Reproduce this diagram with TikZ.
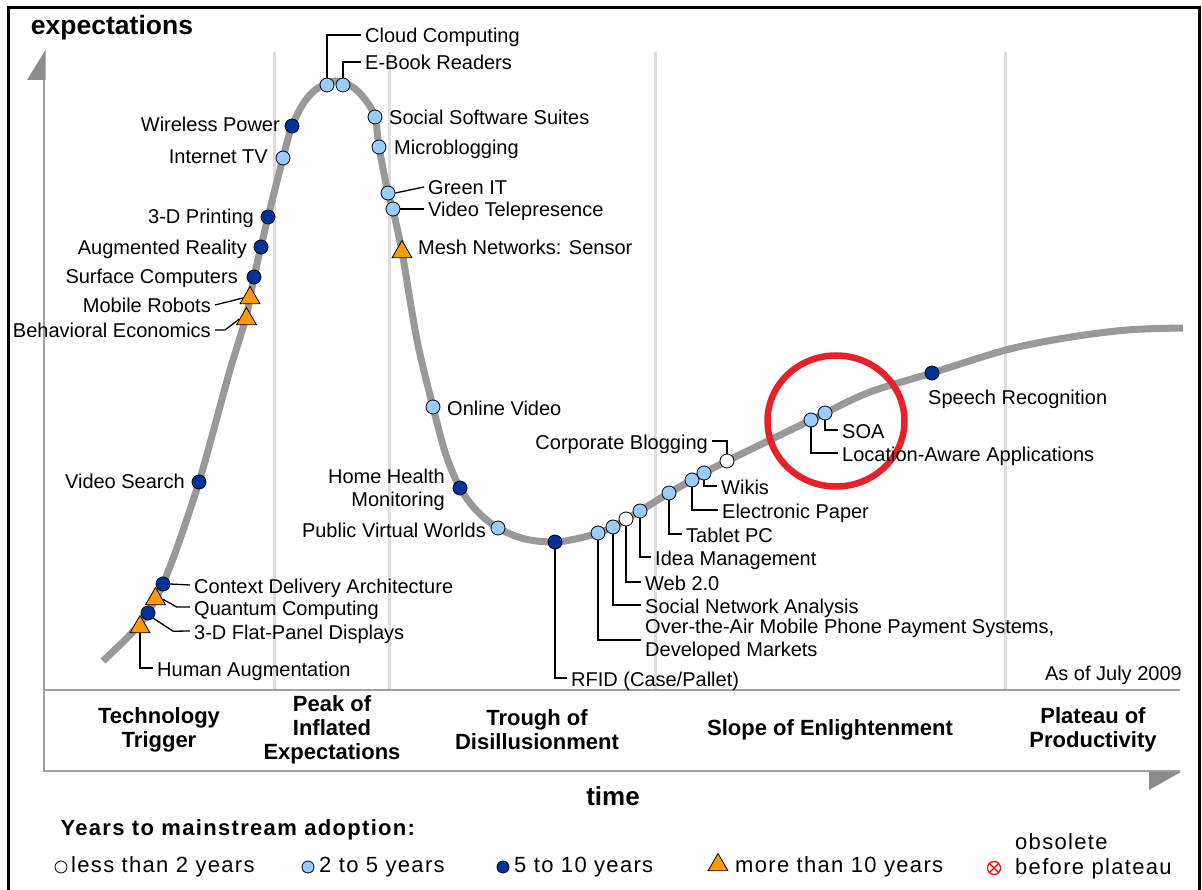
\documentclass[tikz,border=0pt]{standalone}
\usepackage{fontspec}
\setmainfont{Liberation Sans}
\usepackage{xcolor}
\usepackage{tikz}
\usetikzlibrary{shapes.geometric}

\definecolor{lightdot}{HTML}{99CCFF}
\definecolor{darkdot}{HTML}{003399}
\definecolor{tridot}{HTML}{FF9900}
\definecolor{curvegray}{HTML}{999999}
\definecolor{gridgray}{HTML}{DDDDDD}
\definecolor{axisgray}{HTML}{A0A0A0}
\definecolor{arrowgray}{HTML}{8C8C8C}
\definecolor{ringred}{HTML}{E8202A}

\begin{document}
\begin{tikzpicture}[x=1pt, y=-1pt,
        lbl/.style={font=\fontsize{20}{23}\selectfont, inner xsep=4pt, inner ysep=1pt, text height=17pt, text depth=1pt},
        lbltwo/.style={font=\fontsize{20}{23}\selectfont, inner xsep=4pt, inner ysep=1pt},
        dotbase/.style={circle, draw=black, line width=0.8pt, minimum size=14, inner sep=0pt},
        dotwhite/.style={dotbase, fill=white},
        dotlight/.style={dotbase, fill=lightdot},
        dotdark/.style={dotbase, fill=darkdot},
        dottri/.style={regular polygon, regular polygon sides=3, draw=black, line width=0.8pt, fill=tridot, minimum size=23, inner sep=0pt},
        lead/.style={line width=1.3pt},
        phase/.style={font=\fontsize{22}{24}\selectfont\bfseries, align=center},
        legtxt/.style={font=\fontsize{22}{25}\selectfont\addfontfeature{LetterSpace=6}, anchor=west, inner xsep=4pt}]

        \useasboundingbox (0,0) rectangle (1202,890);
        \fill[white] (0,0) rectangle (1202,890);
        \draw[line width=3pt] (8.5,895) -- (8.5,7.5) -- (1199.5,7.5) -- (1199.5,895);

        % phase grid
        \draw[gridgray, line width=3pt] (274,52) -- (274,689);
        \draw[gridgray, line width=3pt] (389,52) -- (389,689);
        \draw[gridgray, line width=3pt] (655,52) -- (655,689);
        \draw[gridgray, line width=3pt] (1005,52) -- (1005,689);

        % axes
        \draw[axisgray, line width=2.2pt] (44,690) -- (1180,690);
        \draw[axisgray, line width=2.2pt] (44,80) -- (44,771) -- (1180,771);
        \fill[arrowgray] (45.5,50) -- (27,80) -- (45.5,80) -- cycle;
        \fill[arrowgray] (1149,772) -- (1181,772) -- (1149,790) -- cycle;

        \node[font=\fontsize{26.5}{28}\selectfont\bfseries] (ylabel) at (112,28) {expectations};
        \node[font=\fontsize{26}{28}\selectfont\bfseries] (xlabel) at (613,796) {time};

        % hype curve
        \draw[curvegray, line width=7pt] plot[smooth, tension=0.55] coordinates {
            (103,661) (125,640) (140,624) (148,613) (155,600) (163,584) (178,545)
            (199,482) (215,425) (230,370) (246,317) (254,277) (261,247) (268,217)
            (283,158) (292,126) (305,101) (318,88) (335,81) (351,86) (364,98)
            (375,117) (379,147) (388,193) (393,210) (402,252) (417,340) (433,407)
            (446,455) (460,488) (477,511) (498,528) (525,539) (555,542) (580,538)
            (598,533) (613,527) (626,519) (640,511) (669,493) (692,480) (704,473)
            (727,461) (770,440) (811,420) (825,413) (870,392) (932,373) (1006,350)
            (1065,338) (1127,330) (1183,328)};

        \node[draw=ringred, line width=6.5pt, ellipse, minimum width=137, minimum height=131] (ring) at (836,421) {};

        % technologies
        \node[dotlight] (cloud) at (327,85) {};
        \node[dotlight] (ebook) at (343,85) {};
        \node[dotdark] (wpower) at (292,126) {};
        \node[dotlight] (itv) at (283,158) {};
        \node[dotdark] (print) at (268,217) {};
        \node[dotdark] (augr) at (261,247) {};
        \node[dotdark] (surf) at (254,277) {};
        \node[dottri] (robot) at (250,298) {};
        \node[dottri] (behav) at (246.5,319) {};
        \node[dotdark] (vsearch) at (199,482) {};
        \node[dotdark] (ctx) at (163,584) {};
        \node[dottri] (quant) at (155.5,599) {};
        \node[dotdark] (flat) at (148,613) {};
        \node[dottri] (human) at (140,627) {};
        \node[dotlight] (socsw) at (375,117) {};
        \node[dotlight] (micro) at (379,147) {};
        \node[dotlight] (green) at (388,193) {};
        \node[dotlight] (vtele) at (393,209) {};
        \node[dottri] (mesh) at (402,252) {};
        \node[dotlight] (ovideo) at (433,407) {};
        \node[dotdark] (hhealth) at (460,488) {};
        \node[dotlight] (pvw) at (498,528) {};
        \node[dotdark] (rfid) at (555,542) {};
        \node[dotlight] (ota) at (598,533) {};
        \node[dotlight] (sna) at (613,527) {};
        \node[dotwhite] (web) at (626,519) {};
        \node[dotlight] (idea) at (640,511) {};
        \node[dotlight] (tablet) at (669,493) {};
        \node[dotlight] (epaper) at (692,480) {};
        \node[dotlight] (wikis) at (704,473) {};
        \node[dotwhite] (corp) at (727,461) {};
        \node[dotlight] (locaw) at (811,420) {};
        \node[dotlight] (soa) at (825,413) {};
        \node[dotdark] (speech) at (932,373) {};

        % labels, left side
        \node[lbl, anchor=east] (wpowerL) at (284,124) {Wireless Power};
        \node[lbl, anchor=east] (itvL) at (272,156) {Internet TV};
        \node[lbl, anchor=east] (printL) at (258,216) {3-D Printing};
        \node[lbl, anchor=east] (augrL) at (251,247) {Augmented Reality};
        \node[lbl, anchor=east] (surfL) at (242,276) {Surface Computers};
        \node[lbl, anchor=east] (robotL) at (215,305) {Mobile Robots};
        \node[lbl, anchor=east] (behavL) at (215,330) {Behavioral Economics};
        \node[lbl, anchor=east] (vsearchL) at (189,480) {Video Search};
        \node[lbltwo, anchor=east, align=right] (hhealthL) at (449,490) {Home Health\\Monitoring};
        \node[lbl, anchor=east] (pvwL) at (490,529) {Public Virtual Worlds};
        \node[lbl, anchor=east] (corpL) at (712,441) {Corporate Blogging};

        % labels, right side
        \node[lbl, anchor=west] (cloudL) at (361,35) {Cloud Computing};
        \node[lbl, anchor=west] (ebookL) at (361,62) {E-Book Readers};
        \node[lbl, anchor=west] (socswL) at (385,117) {Social Software Suites};
        \node[lbl, anchor=west] (microL) at (390,147) {Microblogging};
        \node[lbl, anchor=west] (greenL) at (424,187) {Green IT};
        \node[lbl, anchor=west] (vteleL) at (424,209) {Video Telepresence};
        \node[lbl, anchor=west] (meshL) at (414,247) {Mesh Networks: Sensor};
        \node[lbl, anchor=west] (ovideoL) at (443,407) {Online Video};
        \node[lbl, anchor=west] (ctxL) at (190,585) {Context Delivery Architecture};
        \node[lbl, anchor=west] (quantL) at (190,607) {Quantum Computing};
        \node[lbl, anchor=west] (flatL) at (190,631) {3-D Flat-Panel Displays};
        \node[lbl, anchor=west] (humanL) at (153,668) {Human Augmentation};
        \node[lbl, anchor=west] (rfidL) at (567,678) {RFID (Case/Pallet)};
        \node[lbltwo, anchor=west, align=left] (otaL) at (641,640) {Over-the-Air Mobile Phone Payment Systems,\\Developed Markets};
        \node[lbl, anchor=west] (snaL) at (641,605) {Social Network Analysis};
        \node[lbl, anchor=west] (webL) at (641,582) {Web 2.0};
        \node[lbl, anchor=west] (ideaL) at (651,557) {Idea Management};
        \node[lbl, anchor=west] (tabletL) at (682,534) {Tablet PC};
        \node[lbl, anchor=west] (epaperL) at (718,510) {Electronic Paper};
        \node[lbl, anchor=west] (wikisL) at (717,486) {Wikis};
        \node[lbl, anchor=west] (soaL) at (838,430) {SOA};
        \node[lbl, anchor=west] (locawL) at (838,453) {Location-Aware Applications};
        \node[lbl, anchor=west] (speechL) at (924,396) {Speech Recognition};
        \node[lbl, anchor=east] (asof) at (1186,672) {As of July 2009};

        % leaders
        \draw[lead] (cloud.north) |- (cloudL.west);
        \draw[lead] (ebook.north) |- (ebookL.west);
        \draw[lead] (green.east) -- (greenL.west);
        \draw[lead] (vtele.east) -- (vteleL.west);
        \draw[lead] (robotL.east) -- (robot.west);
        \draw[lead] (behavL.east) -- ++(10,0) -- (behav.west);
        \draw[lead] (ctx.east) -- (ctxL.west);
        \draw[lead] (quant.east) -- ++(14,8) -- (quantL.west);
        \draw[lead] (flat.south east) -- ++(20,13) -- (flatL.west);
        \draw[lead] (human.south) |- (humanL.west);
        \draw[lead] (rfid.south) |- (rfidL.west);
        \draw[lead] (ota.south) |- (otaL.west);
        \draw[lead] (sna.south) |- (snaL.west);
        \draw[lead] (web.south) |- (webL.west);
        \draw[lead] (idea.south) |- (ideaL.west);
        \draw[lead] (tablet.south) |- (tabletL.west);
        \draw[lead] (epaper.south) |- (epaperL.west);
        \draw[lead] (wikis.south) |- (wikisL.west);
        \draw[lead] (corpL.east) -| (corp.north);
        \draw[lead] (soa.south) |- (soaL.west);
        \draw[lead] (locaw.south) |- (locawL.west);

        % phases
        \node[phase] (trigger) at (159,730) {Technology\\Trigger};
        \node[phase] (peak) at (332,730) {Peak of\\Inflated\\Expectations};
        \node[phase] (trough) at (537,730) {Trough of\\Disillusionment};
        \node[phase] (slope) at (830,730) {Slope of Enlightenment};
        \node[phase] (plateau) at (1093,730) {Plateau of\\Productivity};

        % legend
        \node[font=\fontsize{22}{25}\selectfont\bfseries\addfontfeature{LetterSpace=6}, anchor=west] (legtitle) at (57,830) {Years to mainstream adoption:};
        \node[dotbase, fill=white, minimum size=12] (leg1) at (61,867) {};
        \node[legtxt] (leg1L) at (67,867) {less than 2 years};
        \node[dotbase, fill=lightdot, minimum size=12] (leg2) at (308,867) {};
        \node[legtxt] (leg2L) at (315,867) {2 to 5 years};
        \node[dotbase, fill=darkdot, minimum size=12] (leg3) at (503,867) {};
        \node[legtxt] (leg3L) at (510,867) {5 to 10 years};
        \node[dottri] (leg4) at (718,865) {};
        \node[legtxt] (leg4L) at (731,867) {more than 10 years};
        \node[circle, draw=red, line width=1.2pt, minimum size=13, inner sep=0pt] (leg5) at (994,868) {};
        \draw[red, line width=1.2pt] (leg5.north west) -- (leg5.south east);
        \draw[red, line width=1.2pt] (leg5.north east) -- (leg5.south west);
        \node[legtxt, align=left] (leg5L) at (1011,856) {obsolete\\before plateau};
    \end{tikzpicture}
\end{document}
